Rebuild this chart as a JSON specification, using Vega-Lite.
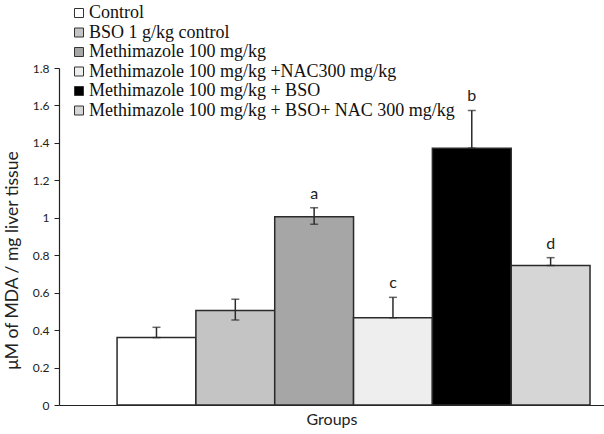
{
  "$schema": "https://vega.github.io/schema/vega-lite/v6.json",
  "autosize": "none",
  "width": 545,
  "height": 337,
  "padding": {"left": 59, "top": 68, "right": 0, "bottom": 29},
  "background": "white",
  "config": {"view": {"stroke": null}},
  "data": {"values": [
    {"group": "Control", "value": 0.36, "low": 0.36, "high": 0.415, "letter": ""},
    {"group": "BSO 1 g/kg control", "value": 0.505, "low": 0.454, "high": 0.565, "letter": ""},
    {"group": "Methimazole 100 mg/kg", "value": 1.005, "low": 0.965, "high": 1.054, "letter": "a"},
    {"group": "Methimazole 100 mg/kg +NAC300 mg/kg", "value": 0.466, "low": 0.466, "high": 0.575, "letter": "c"},
    {"group": "Methimazole 100 mg/kg + BSO", "value": 1.372, "low": 1.372, "high": 1.573, "letter": "b"},
    {"group": "Methimazole 100 mg/kg + BSO+ NAC 300 mg/kg", "value": 0.745, "low": 0.745, "high": 0.787, "letter": "d"}
  ]},
  "encoding": {
    "x": {
      "field": "group", "type": "nominal", "sort": null,
      "scale": {"paddingInner": 0, "paddingOuter": 0.457, "align": 0.806},
      "axis": {"labels": false, "ticks": false, "domainColor": "#222", "domainWidth": 1.2,
               "title": "Groups", "titleFont": "Lato", "titleFontSize": 16, "titleFontWeight": "normal", "titleColor": "#222", "titlePadding": 6}
    }
  },
  "layer": [
    {
      "mark": {"type": "bar", "stroke": "#2a2a2a", "strokeWidth": 1.5},
      "encoding": {
        "y": {"field": "value", "type": "quantitative",
              "scale": {"domain": [0, 1.8]},
              "axis": {"values": [0, 0.2, 0.4, 0.6, 0.8, 1, 1.2, 1.4, 1.6, 1.8], "grid": false,
                       "labelExpr": "toString(datum.value)", "labelOverlap": false, "labelFlush": false, "labelBound": false,
                       "domainColor": "#222", "domainWidth": 1.2, "tickColor": "#222", "tickSize": 5,
                       "labelFont": "Lato", "labelFontSize": 12, "labelColor": "#222", "labelPadding": 5,
                       "title": "μM of MDA / mg liver tissue", "titleFont": "Lato", "titleFontSize": 17.5,
                       "titleFontWeight": "normal", "titleColor": "#222", "titleX": -38, "titleY": 192}},
        "fill": {"field": "group", "type": "nominal", "sort": null,
                 "scale": {"range": ["#ffffff", "#c4c4c4", "#a6a6a6", "#eeeeee", "#000000", "#d6d6d6"]},
                 "legend": {"orient": "none", "legendX": 11, "legendY": -64, "title": null,
                            "symbolType": "square", "symbolSize": 81, "symbolStrokeColor": "#333", "symbolStrokeWidth": 1,
                            "symbolOpacity": 1,
                            "labelFont": "Liberation Serif", "labelFontSize": 18, "labelColor": "#111",
                            "labelLimit": 500, "rowPadding": 1.5, "labelOffset": 1}}
      }
    },
    {
      "mark": {"type": "rule", "color": "#2a2a2a", "strokeWidth": 1.5},
      "encoding": {"y": {"field": "low", "type": "quantitative",
              "scale": {"domain": [0, 1.8]},
              "axis": {"values": [0, 0.2, 0.4, 0.6, 0.8, 1, 1.2, 1.4, 1.6, 1.8], "grid": false,
                       "labelExpr": "toString(datum.value)", "labelOverlap": false, "labelFlush": false, "labelBound": false,
                       "domainColor": "#222", "domainWidth": 1.2, "tickColor": "#222", "tickSize": 5,
                       "labelFont": "Lato", "labelFontSize": 12, "labelColor": "#222", "labelPadding": 5,
                       "title": "μM of MDA / mg liver tissue", "titleFont": "Lato", "titleFontSize": 17.5,
                       "titleFontWeight": "normal", "titleColor": "#222", "titleX": -38, "titleY": 192}},
                   "y2": {"field": "high"}}
    },
    {
      "mark": {"type": "tick", "color": "#2a2a2a", "size": 8, "thickness": 1.5, "orient": "horizontal"},
      "encoding": {"y": {"field": "high", "type": "quantitative",
              "scale": {"domain": [0, 1.8]},
              "axis": {"values": [0, 0.2, 0.4, 0.6, 0.8, 1, 1.2, 1.4, 1.6, 1.8], "grid": false,
                       "labelExpr": "toString(datum.value)", "labelOverlap": false, "labelFlush": false, "labelBound": false,
                       "domainColor": "#222", "domainWidth": 1.2, "tickColor": "#222", "tickSize": 5,
                       "labelFont": "Lato", "labelFontSize": 12, "labelColor": "#222", "labelPadding": 5,
                       "title": "μM of MDA / mg liver tissue", "titleFont": "Lato", "titleFontSize": 17.5,
                       "titleFontWeight": "normal", "titleColor": "#222", "titleX": -38, "titleY": 192}}}
    },
    {
      "mark": {"type": "tick", "color": "#2a2a2a", "size": 8, "thickness": 1.5, "orient": "horizontal"},
      "encoding": {"y": {"field": "low", "type": "quantitative",
              "scale": {"domain": [0, 1.8]},
              "axis": {"values": [0, 0.2, 0.4, 0.6, 0.8, 1, 1.2, 1.4, 1.6, 1.8], "grid": false,
                       "labelExpr": "toString(datum.value)", "labelOverlap": false, "labelFlush": false, "labelBound": false,
                       "domainColor": "#222", "domainWidth": 1.2, "tickColor": "#222", "tickSize": 5,
                       "labelFont": "Lato", "labelFontSize": 12, "labelColor": "#222", "labelPadding": 5,
                       "title": "μM of MDA / mg liver tissue", "titleFont": "Lato", "titleFontSize": 17.5,
                       "titleFontWeight": "normal", "titleColor": "#222", "titleX": -38, "titleY": 192}}}
    },
    {
      "mark": {"type": "text", "dy": -14, "font": "Lato", "fontSize": 16, "color": "#222", "baseline": "middle"},
      "encoding": {"y": {"field": "high", "type": "quantitative",
              "scale": {"domain": [0, 1.8]},
              "axis": {"values": [0, 0.2, 0.4, 0.6, 0.8, 1, 1.2, 1.4, 1.6, 1.8], "grid": false,
                       "labelExpr": "toString(datum.value)", "labelOverlap": false, "labelFlush": false, "labelBound": false,
                       "domainColor": "#222", "domainWidth": 1.2, "tickColor": "#222", "tickSize": 5,
                       "labelFont": "Lato", "labelFontSize": 12, "labelColor": "#222", "labelPadding": 5,
                       "title": "μM of MDA / mg liver tissue", "titleFont": "Lato", "titleFontSize": 17.5,
                       "titleFontWeight": "normal", "titleColor": "#222", "titleX": -38, "titleY": 192}},
                   "text": {"field": "letter"}}
    }
  ]
}
